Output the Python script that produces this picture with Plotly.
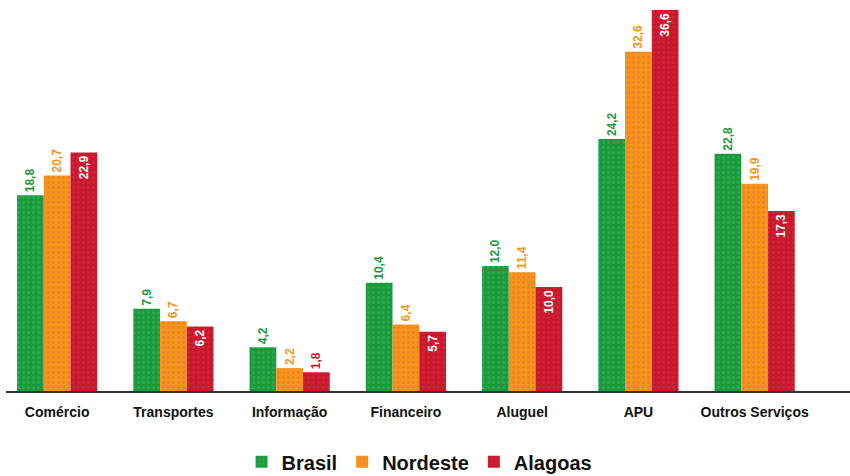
import plotly.graph_objects as go

categories = ["Comércio", "Transportes", "Informação", "Financeiro", "Aluguel", "APU", "Outros Serviços"]
brasil = [18.8, 7.9, 4.2, 10.4, 12.0, 24.2, 22.8]
nordeste = [20.7, 6.7, 2.2, 6.4, 11.4, 32.6, 19.9]
alagoas = [22.9, 6.2, 1.8, 5.7, 10.0, 36.6, 17.3]

green = "#1b9a3d"
orange = "#f7941d"
red = "#c8182b"

def series(name, vals, color, dot, textpos, inside_color, outside_color):
    return go.Bar(
        name=name, x=categories, y=vals,
        marker=dict(color=color, line=dict(width=0),
                    pattern=dict(shape=".", fgcolor=dot, bgcolor=color, size=5, solidity=0.25)),
        texttemplate="%{y:.1f}", textposition=textpos, textangle=-90,
        insidetextanchor="end",
        insidetextfont=dict(color=inside_color, size=12, family="Liberation Sans", weight="bold"),
        outsidetextfont=dict(color=outside_color, size=12, family="Liberation Sans", weight="bold"),
        cliponaxis=False,
    )

fig = go.Figure()
fig.add_trace(series("Brasil", brasil, green, "#3cc060", "outside", "white", green))
fig.add_trace(series("Nordeste", nordeste, orange, "#e0702a", "outside", "white", orange))
fig.add_trace(series("Alagoas", alagoas, red, "#e03050", "auto", "white", red))

fig.update_layout(
    width=850, height=476,
    margin=dict(l=6, r=0, t=10, b=85, autoexpand=False),
    paper_bgcolor="white", plot_bgcolor="white",
    barmode="group", bargap=0.31, bargroupgap=0,
    separators=",.",
    showlegend=True,
    legend=dict(orientation="h", x=0.49, xanchor="center",
                yref="container", y=0.03, yanchor="middle",
                font=dict(size=20, family="Liberation Sans", color="#111", weight="bold"),
                itemsizing="constant", traceorder="normal"),
    font=dict(family="Liberation Sans"),
)
fig.update_xaxes(range=[-0.44, 6.82], showline=True, linecolor="#333", linewidth=2,
                 ticks="", showgrid=False, ticklabelstandoff=7,
                 tickfont=dict(size=14, family="Liberation Sans", color="#111", weight="bold"))
fig.update_yaxes(range=[0, 36.6], visible=False, showgrid=False)

fig.write_html("out.html", config={"displayModeBar": False},
               post_script="document.body.style.margin='0';")
